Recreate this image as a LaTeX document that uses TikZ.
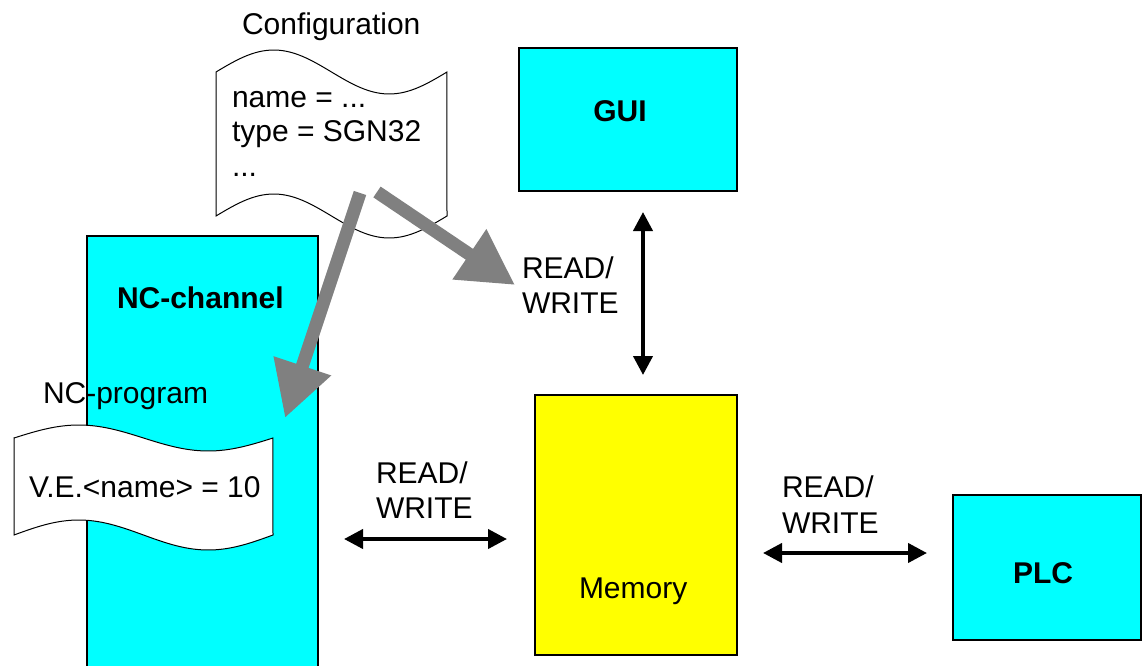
\documentclass[tikz,border=0pt]{standalone}
\usepackage{fontspec}
\setmainfont{Liberation Sans}
\usetikzlibrary{arrows.meta}
\definecolor{cy}{RGB}{0,255,255}
\definecolor{yl}{RGB}{255,255,0}
\definecolor{gr}{RGB}{128,128,128}
\begin{document}
\begin{tikzpicture}[x=1pt,y=-1pt,
  every node/.style={font=\fontsize{30}{35}\selectfont, inner sep=0pt, outer sep=0pt},
  box/.style={draw=black, line width=1.2pt, anchor=north west},
  tape/.style={draw=black, line width=1pt, fill=white},
  lbl/.style={anchor=base west},
  dbl/.style={{Triangle[length=19pt,width=19pt]}-{Triangle[length=19pt,width=19pt]}, line width=4pt},
  flow/.style={-{Triangle[length=55pt,width=57pt]}, line width=13pt, draw=gr, fill=gr}]
\useasboundingbox (0,0) rectangle (1143,666);
\clip (0,0) rectangle (1143,666);

% Configuration tape
\path[tape] plot[domain=0:1,samples=60,variable=\t] ({216+231*\t},{72-22*sin(360*\t)})
  -- plot[domain=1:0,samples=60,variable=\t] ({216+231*\t},{216-22*sin(360*\t)}) -- cycle;

% boxes
\node[box, fill=cy, minimum width=231pt, minimum height=450pt] (nc) at (87,236) {};
\node[box, fill=cy, minimum width=218pt, minimum height=143pt] (gui) at (519,48) {};
\node[box, fill=yl, minimum width=202pt, minimum height=260pt] (mem) at (535,395) {};
\node[box, fill=cy, minimum width=188pt, minimum height=145pt] (plc) at (953,495) {};

% NC-program tape
\path[tape] plot[domain=0:1,samples=60,variable=\t] ({14+259*\t},{438-13*sin(360*\t)})
  -- plot[domain=1:0,samples=60,variable=\t] ({14+259*\t},{535-15*sin(360*\t)}) -- cycle;

% texts
\node[lbl] (tconf) at (242,35) {Configuration};
\node[lbl] (tl1) at (232,108) {name = ...};
\node[lbl] (tl2) at (232,142) {type = SGN32};
\node[lbl] (tl3) at (232,176) {...};
\node[lbl, font=\fontsize{30}{35}\selectfont\bfseries] (tnc) at (117,308) {NC-channel};
\node[anchor=base, font=\fontsize{30}{35}\selectfont\bfseries] (tgui) at (620,122) {GUI};
\node[lbl, font=\fontsize{30}{35}\selectfont\bfseries] (tplc) at (1013,583) {PLC};
\node[lbl] (tmem) at (579,598) {Memory};
\node[lbl] (tncp) at (43,403) {NC-program};
\node[lbl] (tve) at (29,497) {V.E.<name> = 10};
\node[lbl] (rw1a) at (522,278) {READ/};
\node[lbl] (rw1b) at (522,313) {WRITE};
\node[lbl] (rw2a) at (376,483) {READ/};
\node[lbl] (rw2b) at (376,518) {WRITE};
\node[lbl] (rw3a) at (782,497) {READ/};
\node[lbl] (rw3b) at (782,533) {WRITE};

% black double arrows
\draw[dbl, shorten <=21pt, shorten >=20pt] (gui.south -| 643,0) -- (mem.north -| 643,0);
\draw[dbl, shorten <=26pt, shorten >=28pt] (nc.east |- 0,539) -- (mem.west |- 0,539);
\draw[dbl, shorten <=26pt, shorten >=26pt] (mem.east |- 0,553) -- (plc.west |- 0,553);

% gray flow arrows
\coordinate (c1) at (360,193);
\coordinate (t1) at (285,418);
\coordinate (c2) at (377,192);
\coordinate (t2) at (515,285);
\draw[flow] (c1) -- (t1);
\draw[flow] (c2) -- (t2);
\end{tikzpicture}
\end{document}
